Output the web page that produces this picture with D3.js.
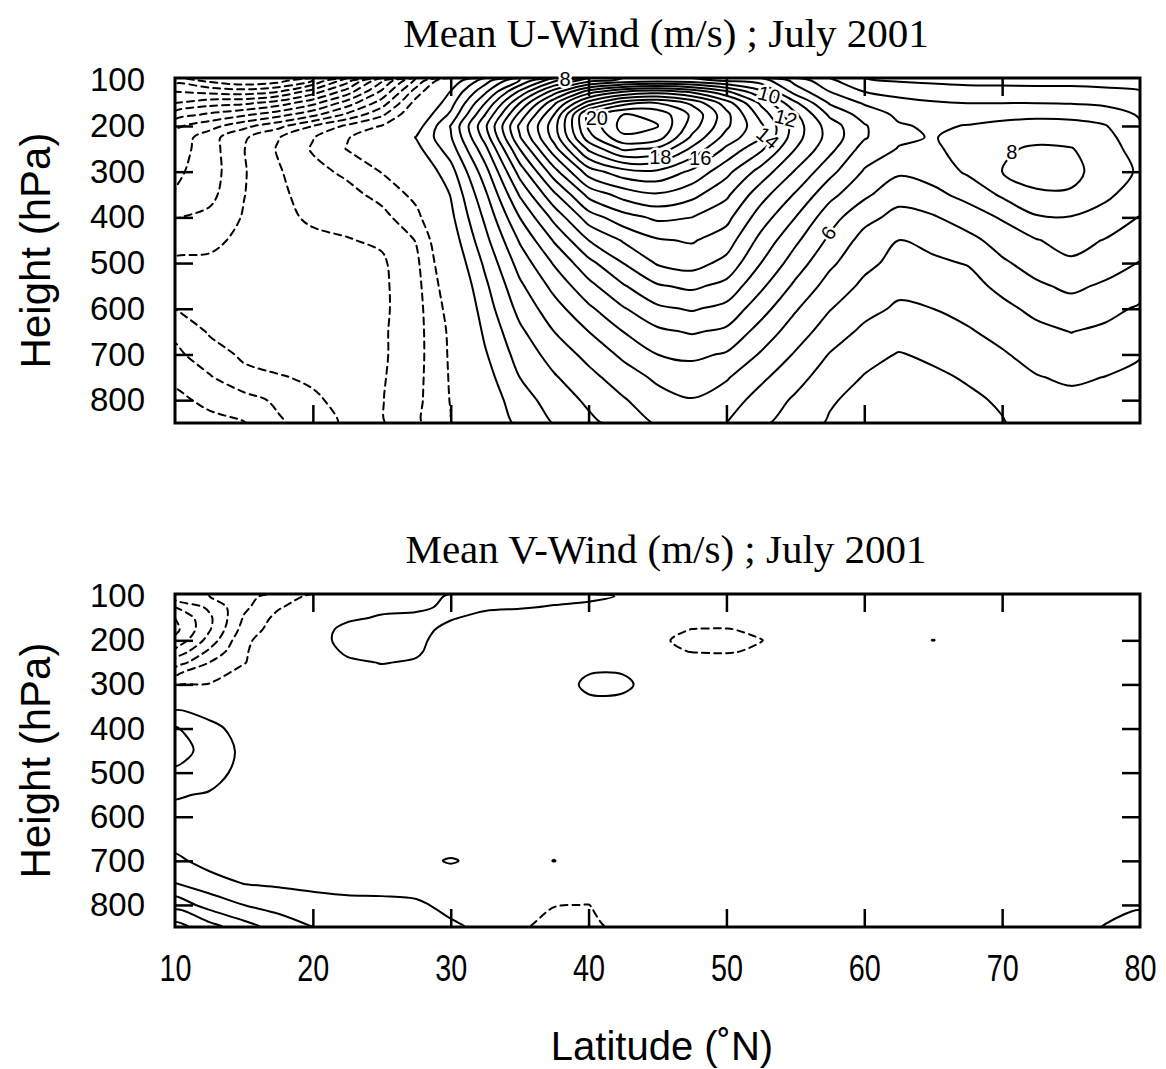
<!DOCTYPE html>
<html>
<head>
<meta charset="utf-8">
<script src="https://cdn.jsdelivr.net/npm/d3@7/dist/d3.min.js"></script>
<style>
html,body{margin:0;padding:0;background:#fff;}
svg{display:block;}
</style>
</head>
<body>
<svg id="chart" width="1166" height="1069" xmlns="http://www.w3.org/2000/svg"></svg>
<script>
// ---------------- data ----------------
const lats = [10,12.5,15,17.5,20,22.5,25,27.5,30,32.5,35,37.5,40,42.5,45,47.5,50,52.5,55,57.5,60,62.5,65,67.5,70,72.5,75,77.5,80];
const levels = [100,125,150,175,200,225,250,300,350,400,450,500,550,600,650,700,750,800,850];
const latTicks = [10,20,30,40,50,60,70,80];
const pressureTicks = [100,200,300,400,500,600,700,800];

// zonal wind (m/s): one profile per latitude, values at the levels above
const uWindByLat = [
 [-12.5,-11,-10,-8.6,-7.2,-6.7,-6.5,-6.2,-5.95,-5.05,-4.4,-3.85,-3.45,-3.0,-2.25,-1.75,-1.25,-0.75,-0.3],
 [-13.3,-11.3,-9.4,-7.8,-6.4,-5.4,-5.45,-5.5,-5.3,-4.75,-4.2,-3.85,-3.6,-3.35,-3.1,-2.6,-1.9,-1.25,-0.7],
 [-13.9,-11.5,-9.2,-7.2,-5.3,-4.15,-4.03,-4.08,-4.03,-3.92,-3.8,-3.7,-3.6,-3.5,-3.35,-3.15,-2.75,-1.6,-0.95],
 [-13.5,-11,-8.5,-6.4,-4.3,-3.05,-2.9,-3.1,-3.2,-3.25,-3.4,-3.5,-3.5,-3.5,-3.45,-3.3,-2.95,-2.2,-1.85],
 [-12,-9.5,-7.3,-5.3,-3.0,-2.05,-1.9,-2.3,-2.6,-2.85,-3.2,-3.4,-3.45,-3.45,-3.4,-3.3,-3.1,-2.9,-2.6],
 [-9.5,-7.5,-5.5,-3.8,-1.8,-1.05,-0.95,-1.8,-2.3,-2.7,-3.05,-3.25,-3.35,-3.4,-3.4,-3.35,-3.3,-3.2,-3.15],
 [-6.2,-4.8,-3.5,-2.2,-0.95,-0.4,-0.45,-0.95,-1.7,-2.3,-2.85,-3.15,-3.2,-3.2,-3.15,-3.15,-3.1,-3.05,-3.1],
 [-2.8,-1.5,-0.6,0.0,0.5,1.05,0.7,0.0,-0.7,-1.3,-1.95,-2.2,-2.3,-2.35,-2.35,-2.35,-2.3,-2.25,-2.2],
 [0.2,1.05,1.6,2.2,3.05,2.9,2.5,1.6,1.05,0.75,0.4,0.05,-0.3,-0.6,-0.8,-0.85,-0.9,-0.95,-1.05],
 [2.5,3.8,5.0,6.0,6.8,6.4,5.7,4.6,3.8,3.2,2.7,2.2,1.8,1.5,1.2,0.9,0.6,0.3,0.05],
 [5.0,7.2,9.0,10.3,11.2,10.9,10.0,8.4,7.1,6.0,5.1,4.4,3.8,3.3,2.8,2.4,2.0,1.6,1.25],
 [7.7,10.5,12.8,14.0,14.6,14.4,13.6,11.6,9.8,8.3,7.1,6.1,5.3,4.6,4.0,3.4,2.9,2.4,2.05],
 [9.5,13.5,16.5,19.3,19.2,18.6,17.2,14.5,12.3,10.5,9.0,7.7,6.7,5.8,5.0,4.3,3.7,3.2,2.75],
 [10.2,15.0,18.6,21.0,21.4,20.8,19.2,15.6,13.4,11.6,10.1,9.0,7.9,6.9,6.0,5.2,4.5,3.9,3.4],
 [10.5,15.5,19.0,20.7,21.05,20.5,18.8,15.8,13.9,12.2,10.9,10.1,8.9,7.8,6.8,6.0,5.2,4.6,4.1],
 [10.3,14.8,17.8,18.8,18.5,17.8,16.8,14.8,13.3,12.0,11.1,10.4,9.2,8.1,7.1,6.2,5.5,4.95,4.5],
 [9.8,13.2,15.5,16.3,16.2,15.6,14.8,13.3,12.2,11.3,10.5,9.7,8.7,7.7,6.8,5.9,5.1,4.5,4.0],
 [9.5,11.2,12.8,13.6,14.2,14.1,13.2,11.6,10.4,9.5,8.7,8.0,7.2,6.4,5.6,4.9,4.2,3.6,3.2],
 [7.6,8.6,10.2,11.2,11.5,11.4,11.0,9.9,8.9,8.0,7.2,6.5,5.8,5.1,4.5,3.9,3.35,2.85,2.45],
 [6.2,7.0,7.9,8.8,9.5,9.6,9.3,8.3,7.3,6.4,5.8,5.2,4.6,4.05,3.5,2.95,2.5,2.1,1.9],
 [5.05,6.0,6.9,7.6,8.1,8.1,7.6,6.9,6.2,5.3,4.65,4.25,3.8,3.3,2.8,2.3,1.95,1.7,1.6],
 [4.9,5.7,6.3,6.8,7.1,7.15,6.95,6.15,5.35,4.7,4.0,3.7,3.25,2.85,2.4,1.95,1.7,1.6,1.6],
 [4.8,5.5,6.1,6.5,6.85,6.95,6.85,6.4,5.75,4.9,4.25,3.85,3.4,3.0,2.6,2.15,1.85,1.75,1.7],
 [4.7,5.4,6.0,6.55,7.05,7.3,7.35,7.15,6.3,5.5,4.7,4.05,3.65,3.3,2.9,2.5,2.08,1.85,1.8],
 [4.7,5.35,6.0,6.7,7.25,7.6,7.9,8.0,7.15,6.1,5.4,4.85,4.25,3.75,3.3,2.9,2.5,2.1,1.95],
 [4.7,5.3,6.0,6.8,7.35,7.8,8.1,8.3,7.9,6.9,5.95,5.4,4.85,4.25,3.75,3.35,2.95,2.6,2.3],
 [4.7,5.3,5.95,6.75,7.3,7.65,8.05,8.25,7.9,6.95,6.35,5.85,5.2,4.6,4.02,3.6,3.15,2.75,2.4],
 [4.65,5.2,5.8,6.55,7.05,7.3,7.45,7.6,7.2,6.6,5.95,5.45,4.85,4.3,3.8,3.4,2.98,2.7,2.45],
 [4.6,5.05,5.55,5.9,6.1,6.35,6.55,6.85,6.5,5.95,5.45,4.95,4.45,3.85,3.4,3.05,2.8,2.6,2.45]
];

// meridional wind (m/s): one profile per latitude
const vWindByLat = [
 [-3.5,-5.0,-6.0,-6.3,-5.8,-4.8,-3.6,-1.2,0.75,2.1,2.35,1.85,1.1,0.6,0.5,1.25,2.0,3.6,5.4],
 [-3.0,-3.8,-4.2,-4.1,-3.6,-2.8,-2.0,-0.95,0.5,1.3,1.7,1.5,0.9,0.4,0.25,0.6,1.45,2.6,4.4],
 [-2.4,-2.2,-1.9,-1.6,-1.2,-1.1,-1.05,-0.4,0.2,0.6,0.75,0.6,0.4,0.25,0.2,0.3,0.95,2.0,3.4],
 [-1.5,-1.1,-0.7,-0.5,-0.4,-0.35,-0.3,-0.1,0.1,0.3,0.35,0.3,0.3,0.25,0.2,0.3,0.85,1.6,2.6],
 [-0.8,-0.4,-0.1,0.4,0.5,0.3,0.1,0.0,0.1,0.2,0.25,0.25,0.3,0.25,0.2,0.3,0.8,1.3,2.0],
 [-0.3,0.4,0.8,1.35,1.4,1.2,0.8,0.3,0.2,0.25,0.3,0.3,0.35,0.3,0.25,0.35,0.75,1.2,1.7],
 [0.1,0.7,1.15,1.3,1.35,1.25,1.05,0.4,0.25,0.3,0.3,0.3,0.3,0.3,0.25,0.35,0.7,1.2,1.6],
 [0.6,0.85,1.2,1.25,1.2,1.15,0.9,0.35,0.3,0.3,0.3,0.3,0.35,0.3,0.3,0.6,0.6,1.15,1.4],
 [1.1,1.15,1.05,0.8,0.6,0.4,0.3,0.3,0.3,0.35,0.3,0.35,0.4,0.35,0.2,1.12,0.2,0.75,1.15],
 [1.3,1.1,0.8,0.5,0.35,0.3,0.3,0.35,0.4,0.35,0.3,0.3,0.35,0.35,0.4,0.6,0.4,0.5,0.8],
 [1.25,1.05,0.7,0.45,0.3,0.3,0.35,0.4,0.4,0.35,0.3,0.3,0.35,0.4,0.4,0.45,0.2,-0.3,-0.85],
 [1.2,0.95,0.6,0.4,0.35,0.3,0.35,0.5,0.45,0.4,0.35,0.3,0.35,0.4,0.4,1.03,0.1,-0.95,-1.45],
 [1.15,0.85,0.6,0.4,0.35,0.4,0.75,1.2,0.75,0.45,0.35,0.3,0.3,0.35,0.35,0.3,0.0,-1.02,-1.4],
 [0.95,0.75,0.5,0.4,0.4,0.45,0.75,1.2,0.7,0.45,0.35,0.3,0.3,0.3,0.3,0.3,0.1,-0.4,-0.6],
 [0.8,0.5,0.2,-0.5,-0.85,-0.7,-0.2,0.55,0.4,0.35,0.3,0.3,0.3,0.3,0.3,0.3,0.3,0.2,0.1],
 [0.6,0.3,-0.3,-1.02,-1.25,-1.05,-0.4,0.2,0.3,0.3,0.3,0.3,0.3,0.3,0.3,0.3,0.3,0.3,0.3],
 [0.5,0.2,-0.35,-1.05,-1.25,-1.1,-0.5,0.1,0.3,0.3,0.3,0.3,0.3,0.3,0.3,0.3,0.3,0.3,0.3],
 [0.4,0.2,-0.2,-0.8,-1.03,-0.85,-0.4,0.1,0.3,0.3,0.3,0.3,0.3,0.3,0.3,0.3,0.3,0.3,0.3],
 [0.3,0.2,0.0,-0.3,-0.5,-0.4,-0.2,0.1,0.3,0.3,0.3,0.3,0.3,0.3,0.3,0.3,0.3,0.3,0.3],
 [0.3,0.3,0.2,0.1,0.1,0.1,0.1,0.2,0.3,0.3,0.3,0.3,0.3,0.3,0.3,0.3,0.3,0.3,0.3],
 [0.3,0.3,0.3,0.3,0.3,0.3,0.3,0.3,0.3,0.3,0.3,0.3,0.3,0.3,0.3,0.3,0.3,0.3,0.3],
 [0.3,0.3,0.3,0.3,0.35,0.3,0.3,0.3,0.3,0.3,0.3,0.3,0.3,0.3,0.3,0.3,0.3,0.3,0.3],
 [0.3,0.3,0.3,0.35,1.03,0.35,0.3,0.3,0.3,0.3,0.3,0.3,0.3,0.3,0.3,0.3,0.3,0.3,0.3],
 [0.3,0.3,0.3,0.3,0.35,0.3,0.3,0.3,0.3,0.3,0.3,0.3,0.3,0.3,0.3,0.3,0.3,0.3,0.3],
 [0.3,0.3,0.3,0.3,0.3,0.3,0.3,0.3,0.3,0.3,0.3,0.3,0.3,0.3,0.3,0.3,0.3,0.3,0.3],
 [0.3,0.3,0.3,0.3,0.3,0.3,0.3,0.3,0.3,0.3,0.3,0.3,0.3,0.3,0.3,0.3,0.3,0.3,0.35],
 [0.3,0.3,0.3,0.3,0.3,0.3,0.3,0.3,0.3,0.3,0.3,0.3,0.3,0.3,0.3,0.3,0.35,0.4,0.6],
 [0.3,0.3,0.3,0.3,0.3,0.3,0.3,0.3,0.3,0.3,0.3,0.3,0.3,0.3,0.3,0.3,0.45,0.7,1.05],
 [0.3,0.3,0.3,0.3,0.3,0.3,0.3,0.3,0.3,0.3,0.3,0.3,0.3,0.3,0.3,0.3,0.6,0.9,1.3]
];

const uThresholds = [-16,-15,-14,-13,-12,-11,-10,-9,-8,-7,-6,-5,-4,-3,-2,-1,1,2,3,4,5,6,7,8,9,10,11,12,13,14,15,16,17,18,19,20,21,22];
const vThresholds = [-7,-6,-5,-4,-3,-2,-1,1,2,3,4,5,6,7];

// contour labels on the U panel
const uLabelText  = ["8","20","18","16","14","12","10","6","8"];
const uLabelLat   = [38.3,40.6,45.2,48.1,53.0,54.3,53.1,57.4,70.7];
const uLabelLev   = [98,183,268,270,226,183,132,434,257];
const uLabelAngle = [0,0,0,0,40,15,15,-55,0];

const titles = ["Mean U-Wind (m/s) ; July 2001", "Mean V-Wind (m/s) ; July 2001"];
const yAxisTitle = "Height (hPa)";
const xAxisTitle = "Latitude (\u02DAN)";

// ---------------- drawing ----------------
const svg = d3.select("#chart");
const left = 175, right = 1140;
const x = d3.scaleLinear().domain([10, 80]).range([left, right]);
const n = lats.length, m = levels.length;
const idxLat = d3.scaleLinear().domain(d3.range(n)).range(lats);
const idxLev = d3.scaleLinear().domain(d3.range(m)).range(levels);

const panels = [
  {top: 78,  bottom: 423, data: uWindByLat, thr: uThresholds, title: titles[0], titleY: 47,  labels: true,  xLabels: false},
  {top: 594, bottom: 927, data: vWindByLat, thr: vThresholds, title: titles[1], titleY: 563, labels: false, xLabels: true}
];

function extractLines(flat, t) {
  const geom = d3.contours().size([n, m]).thresholds([t])(flat)[0];
  const out = [];
  const onB = p => p[0] <= 0 || p[0] >= n || p[1] <= 0 || p[1] >= m;
  const same = (a, b) => (a[0] <= 0 && b[0] <= 0) || (a[0] >= n && b[0] >= n) ||
                         (a[1] <= 0 && b[1] <= 0) || (a[1] >= m && b[1] >= m);
  geom.coordinates.forEach(poly => poly.forEach(ring => {
    const pts = ring.slice(0, -1);
    const k = pts.length;
    if (k < 2) return;
    let start = -1;
    for (let s = 0; s < k; s++) {
      const a = pts[(s - 1 + k) % k], b = pts[s];
      if (onB(a) && onB(b) && same(a, b)) { start = s; break; }
    }
    if (start < 0) { out.push({pts: pts, closed: true}); return; }
    let cur = [pts[start]];
    for (let q = 1; q <= k; q++) {
      const a = pts[(start + q - 1) % k], b = pts[(start + q) % k];
      if (onB(a) && onB(b) && same(a, b)) {
        if (cur.length > 1) out.push({pts: cur, closed: false});
        cur = [b];
      } else cur.push(b);
    }
    if (cur.length > 1) out.push({pts: cur, closed: false});
  }));
  return out;
}

panels.forEach((P, pi) => {
  const y = d3.scaleLinear().domain([95, 850]).range([P.top, P.bottom]);
  const flat = new Array(n * m);
  for (let j = 0; j < m; j++) for (let i = 0; i < n; i++) flat[j * n + i] = P.data[i][j];

  const toXY = p => {
    const gi = Math.max(0, Math.min(n - 1, p[0] - 0.5));
    const gj = Math.max(0, Math.min(m - 1, p[1] - 0.5));
    const px = x(idxLat(gi));
    const py = p[1] <= 0 ? P.top : y(idxLev(gj));
    return [px, py];
  };

  const clipId = "clip" + pi;
  svg.append("clipPath").attr("id", clipId)
    .append("rect").attr("x", left).attr("y", P.top)
    .attr("width", right - left).attr("height", P.bottom - P.top);

  const gC = svg.append("g").attr("clip-path", `url(#${clipId})`)
    .attr("fill", "none").attr("stroke", "#000").attr("stroke-width", 2)
    .attr("stroke-linejoin", "round").attr("stroke-linecap", "round");

  const lineOpen = d3.line().curve(d3.curveCatmullRom.alpha(0.5));
  const lineClosed = d3.line().curve(d3.curveCatmullRomClosed.alpha(0.5));

  P.thr.forEach(t => {
    extractLines(flat, t).forEach(L => {
      const raw = L.pts.map(toXY);
      const pts = raw.filter((p, i) => i === 0 || Math.hypot(p[0] - raw[i - 1][0], p[1] - raw[i - 1][1]) > 0.01);
      if (pts.length < 2 && !L.closed) return;
      gC.append("path")
        .attr("d", L.closed ? lineClosed(pts) : lineOpen(pts))
        .attr("stroke-dasharray", t < 0 ? "7,5" : null);
    });
  });

  // frame
  svg.append("rect").attr("x", left).attr("y", P.top)
    .attr("width", right - left).attr("height", P.bottom - P.top)
    .attr("fill", "none").attr("stroke", "#000").attr("stroke-width", 3);

  // contour labels
  if (P.labels) {
    const gL = svg.append("g");
    uLabelText.forEach((txt, i) => {
      const lx = x(uLabelLat[i]), ly = y(uLabelLev[i]);
      gL.append("text")
        .attr("transform", `translate(${lx},${ly}) rotate(${uLabelAngle[i]})`)
        .attr("text-anchor", "middle").attr("dy", "0.35em")
        .attr("font-family", "Liberation Sans, Arial, sans-serif").attr("font-size", 20)
        .attr("fill", "#000").attr("stroke", "#fff").attr("stroke-width", 5)
        .attr("paint-order", "stroke").text(txt);
    });
  }

  // axes (ticks inward)
  const innerLat = latTicks.filter(d => d > 10 && d < 80);
  const gLeft = svg.append("g").attr("transform", `translate(${left},0)`)
    .call(d3.axisLeft(y).tickValues(pressureTicks).tickSize(-18).tickPadding(30));
  gLeft.select(".domain").remove();
  gLeft.selectAll(".tick line").attr("stroke-width", 2.5).filter(d => d === 100).remove();
  gLeft.selectAll(".tick text").attr("font-family", "Liberation Sans, Arial, sans-serif")
    .attr("font-size", 33).attr("fill", "#000");

  const gRight = svg.append("g").attr("transform", `translate(${right},0)`)
    .call(d3.axisRight(y).tickValues(pressureTicks.filter(d => d > 100)).tickSize(-18).tickFormat(""));
  gRight.select(".domain").remove();
  gRight.selectAll(".tick line").attr("stroke-width", 2.5);

  const gTop = svg.append("g").attr("transform", `translate(0,${P.top})`)
    .call(d3.axisTop(x).tickValues(innerLat).tickSize(-18).tickFormat(""));
  gTop.select(".domain").remove();
  gTop.selectAll(".tick line").attr("stroke-width", 2.5);

  const gBot = svg.append("g").attr("transform", `translate(0,${P.bottom})`)
    .call(d3.axisBottom(x).tickValues(P.xLabels ? latTicks : innerLat).tickSize(-18).tickPadding(28)
      .tickFormat(P.xLabels ? d3.format("d") : ""));
  gBot.select(".domain").remove();
  gBot.selectAll(".tick line").attr("stroke-width", 2.5).filter(d => d === 10 || d === 80).remove();
  if (P.xLabels) {
    gBot.selectAll(".tick text").attr("font-family", "Liberation Sans Narrow, Liberation Sans, Arial, sans-serif")
      .attr("font-size", 36).attr("fill", "#000")
      .attr("textLength", 32).attr("lengthAdjust", "spacingAndGlyphs");
  }

  // titles
  svg.append("text").attr("x", 666).attr("y", P.titleY).attr("text-anchor", "middle")
    .attr("font-family", "Liberation Serif, Times New Roman, serif").attr("font-size", 41)
    .attr("fill", "#000").text(P.title);

  svg.append("text")
    .attr("transform", `translate(50,${(P.top + P.bottom) / 2}) rotate(-90)`)
    .attr("text-anchor", "middle")
    .attr("font-family", "Liberation Sans, Arial, sans-serif").attr("font-size", 42)
    .attr("fill", "#000").text(yAxisTitle);
});

svg.append("text").attr("x", 662).attr("y", 1060).attr("text-anchor", "middle")
  .attr("font-family", "Liberation Sans, Arial, sans-serif").attr("font-size", 40)
  .attr("fill", "#000").text(xAxisTitle);
</script>
</body>
</html>
